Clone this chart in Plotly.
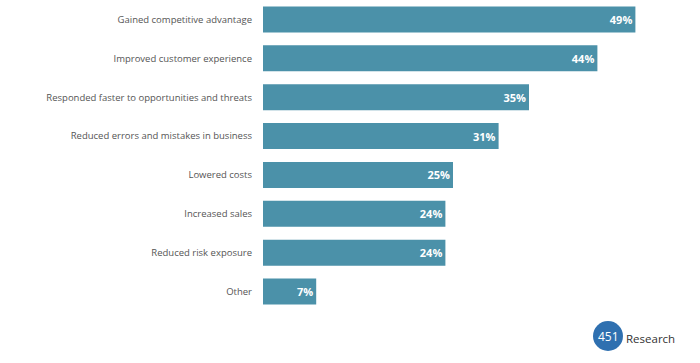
import plotly.graph_objects as go

categories = [
    "Gained competitive advantage",
    "Improved customer experience",
    "Responded faster to opportunities and threats",
    "Reduced errors and mistakes in business",
    "Lowered costs",
    "Increased sales",
    "Reduced risk exposure",
    "Other",
]
values = [49, 44, 35, 31, 25, 24, 24, 7]
value_labels = [f"{v}%" for v in values]

W, H = 700, 363
L, R, T, B = 263, 57, 0, 52
pw, ph = W - L - R, H - T - B

def px_x(p):
    return (p - L) / pw

def px_y(p):
    return 1 - (p - T) / ph

fig = go.Figure(go.Bar(
    y=categories, x=values, orientation="h",
    marker=dict(color="#4b91a9", line=dict(width=0)),
    text=value_labels, textposition="inside", insidetextanchor="end",
    textfont=dict(color="white", size=11, family="Open Sans", weight="bold"),
    width=0.67,
    hoverinfo="skip",
))

fig.update_layout(
    width=W, height=H,
    margin=dict(l=L, r=R, t=T, b=B),
    paper_bgcolor="white", plot_bgcolor="white",
    showlegend=False,
    uniformtext=dict(minsize=8),
    xaxis=dict(range=[0, 50], visible=False),
    yaxis=dict(
        autorange=False, range=[7.5, -0.5], type="category",
        showgrid=False, showline=False, ticks="", ticklabelstandoff=10,
        tickfont=dict(family="Open Sans", size=9.5, color="#555555"),
    ),
)

cx, cy, rad = px_x(608), px_y(336), 15
fig.add_shape(type="circle", xref="paper", yref="paper",
              xsizemode="pixel", ysizemode="pixel",
              xanchor=cx, yanchor=cy, x0=-rad, x1=rad, y0=-rad, y1=rad,
              fillcolor="#2f70b0", line=dict(width=0), layer="above")
fig.add_annotation(x=cx, y=cy, xref="paper", yref="paper", text="451",
                   showarrow=False, xanchor="center", yanchor="middle",
                   font=dict(color="white", size=12, family="Open Sans"))
fig.add_annotation(x=px_x(624), y=px_y(338), xref="paper", yref="paper", text="Research",
                   showarrow=False, xanchor="left", yanchor="middle",
                   font=dict(color="#333333", size=11.5, family="Open Sans"))

fig.write_html("out.html", post_script="document.body.style.margin='0';",
               config={"displayModeBar": False})
